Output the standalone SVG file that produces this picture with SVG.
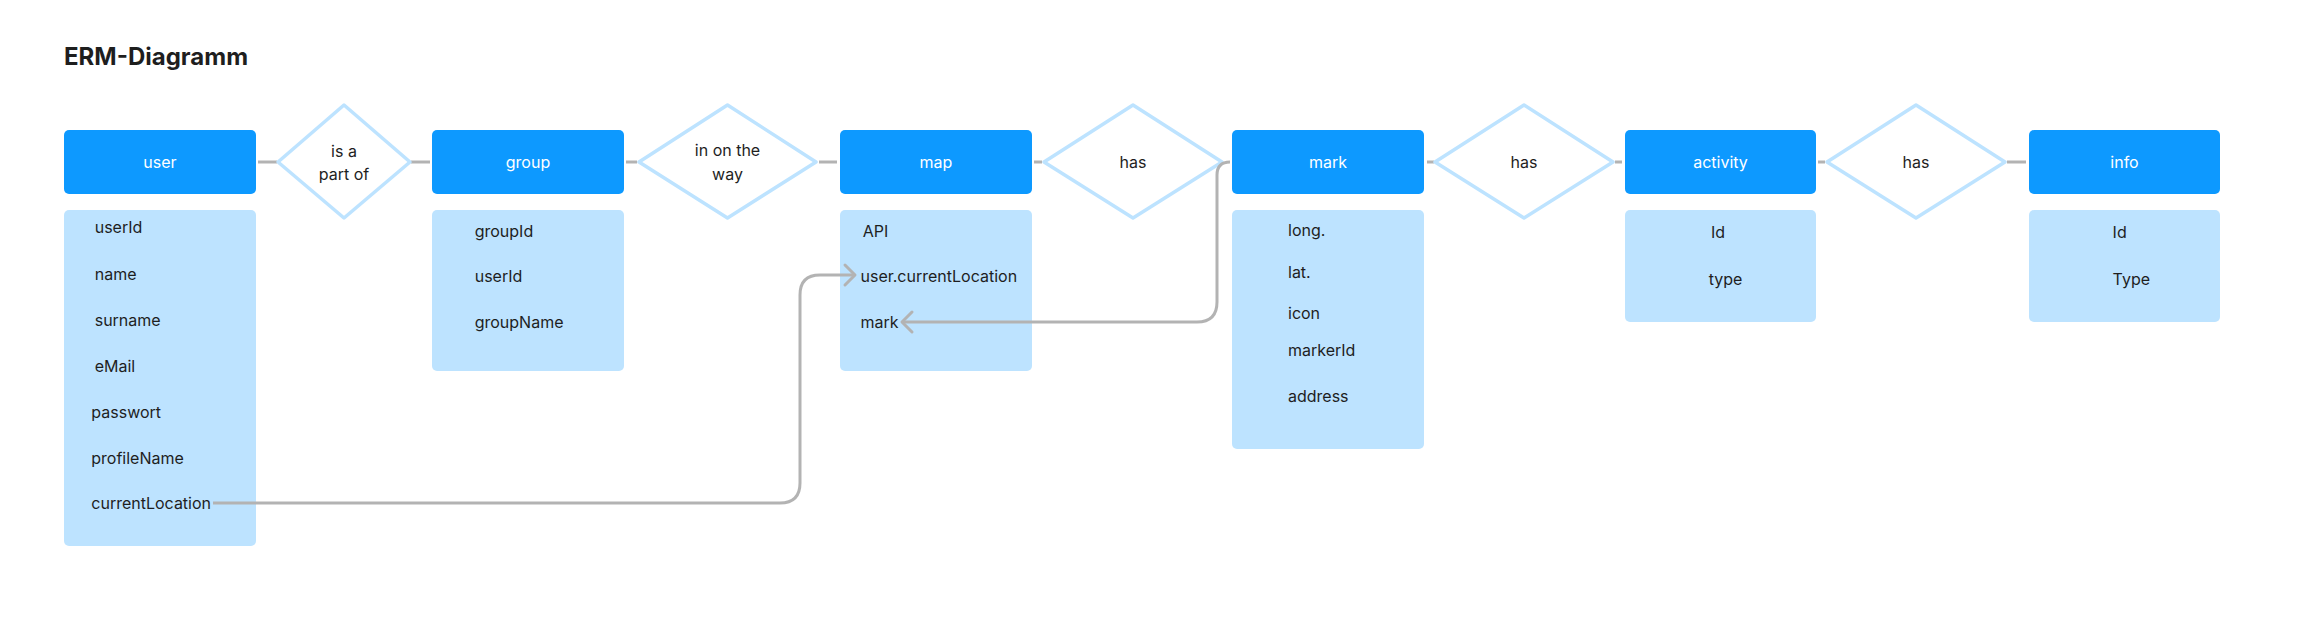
<svg xmlns="http://www.w3.org/2000/svg" width="2304" height="638" viewBox="0 0 2304 638">
<style>
text{font-family:Inter,"Noto Sans","Liberation Sans",sans-serif;font-size:16px;fill:#1e1e1e}
.title{font-size:24px;font-weight:700}
.hd{fill:#0d99ff}
.hdt{fill:#ffffff;text-anchor:middle}
.at{fill:#bde3ff}
.dm{fill:#ffffff;stroke:#bde3ff;stroke-width:3.5;stroke-linejoin:round}
.c{text-anchor:middle}
.ln{fill:none;stroke:#b3b3b3;stroke-width:3}
</style>
<defs>
<marker id="arr" markerUnits="userSpaceOnUse" markerWidth="30" markerHeight="30" viewBox="-15 -15 30 30" refX="0" refY="0" orient="auto">
<path d="M-10,-10 L0,0 L-10,10" fill="none" stroke="#b3b3b3" stroke-width="3" stroke-linecap="round" stroke-linejoin="round"/>
</marker>
</defs>
<rect width="2304" height="638" fill="#ffffff"/>
<text class="title" x="64" y="65">ERM-Diagramm</text>

<g id="connectors">
<line class="ln" x1="258" y1="162" x2="277" y2="162"/>
<line class="ln" x1="411" y1="162" x2="430" y2="162"/>
<line class="ln" x1="626" y1="162" x2="637" y2="162"/>
<line class="ln" x1="819" y1="162" x2="837" y2="162"/>
<line class="ln" x1="1034" y1="162" x2="1042" y2="162"/>
<line class="ln" x1="1427" y1="162" x2="1434" y2="162"/>
<line class="ln" x1="1615" y1="162" x2="1622" y2="162"/>
<line class="ln" x1="1818" y1="162" x2="1825" y2="162"/>
<line class="ln" x1="2007" y1="162" x2="2026" y2="162"/>
</g>

<g id="user">
<rect class="hd" x="64" y="130" width="192" height="64" rx="5"/>
<text class="hdt" x="160" y="168">user</text>
<rect class="at" x="64" y="210" width="192" height="336" rx="5"/>
<text x="94.7" y="233">userId</text>
<text x="94.7" y="279.5">name</text>
<text x="94.7" y="325.5">surname</text>
<text x="94.7" y="371.5">eMail</text>
<text x="91.3" y="417.5">passwort</text>
<text x="91.3" y="463.5">profileName</text>
<text x="91.3" y="509">currentLocation</text>
</g>

<g id="rel-is-a-part-of">
<polygon class="dm" points="344,105 410,162 344,218 278,162"/>
<text class="c" x="344" y="157">is a</text>
<text class="c" x="344" y="180">part of</text>
</g>

<g id="group">
<rect class="hd" x="432" y="130" width="192" height="64" rx="5"/>
<text class="hdt" x="528" y="168">group</text>
<rect class="at" x="432" y="210" width="192" height="161" rx="5"/>
<text x="474.7" y="236.5">groupId</text>
<text x="474.7" y="282">userId</text>
<text x="474.7" y="328">groupName</text>
</g>

<g id="rel-in-on-the-way">
<polygon class="dm" points="727.5,105 816,162 727.5,218 639,162"/>
<text class="c" x="727.5" y="156">in on the</text>
<text class="c" x="727.5" y="180">way</text>
</g>

<g id="map">
<rect class="hd" x="840" y="130" width="192" height="64" rx="5"/>
<text class="hdt" x="936" y="168">map</text>
<rect class="at" x="840" y="210" width="192" height="161" rx="5"/>
<text x="862.7" y="236.5">API</text>
<text x="860.5" y="282">user.currentLocation</text>
<text x="860.5" y="328">mark</text>
</g>

<g id="rel-map-has-mark">
<polygon class="dm" points="1133,105 1222,162 1133,218 1044,162"/>
<text class="c" x="1133" y="168">has</text>
</g>

<g id="mark">
<rect class="hd" x="1232" y="130" width="192" height="64" rx="5"/>
<text class="hdt" x="1328" y="168">mark</text>
<rect class="at" x="1232" y="210" width="192" height="239" rx="5"/>
<text x="1288" y="236">long.</text>
<text x="1288" y="278">lat.</text>
<text x="1288" y="318.5">icon</text>
<text x="1288" y="356">markerId</text>
<text x="1288" y="402">address</text>
</g>

<g id="rel-mark-has-activity">
<polygon class="dm" points="1524,105 1613,162 1524,218 1435,162"/>
<text class="c" x="1524" y="168">has</text>
</g>

<g id="activity">
<rect class="hd" x="1625" y="130" width="191" height="64" rx="5"/>
<text class="hdt" x="1720.5" y="168">activity</text>
<rect class="at" x="1625" y="210" width="191" height="112" rx="5"/>
<text x="1711" y="238">Id</text>
<text x="1708.7" y="284.5">type</text>
</g>

<g id="rel-activity-has-info">
<polygon class="dm" points="1916,105 2005,162 1916,218 1827,162"/>
<text class="c" x="1916" y="168">has</text>
</g>

<g id="info">
<rect class="hd" x="2029" y="130" width="191" height="64" rx="5"/>
<text class="hdt" x="2124.5" y="168">info</text>
<rect class="at" x="2029" y="210" width="191" height="112" rx="5"/>
<text x="2112.6" y="238">Id</text>
<text x="2112.6" y="284.5">Type</text>
</g>

<g id="links">
<path class="ln" d="M213,503 L780,503 Q800,503 800,483 L800,295 Q800,275 820,275 L855,275" marker-end="url(#arr)"/>
<path class="ln" d="M1230,162 Q1217,162 1217,175 L1217,302 Q1217,322 1197,322 L902,322" marker-end="url(#arr)"/>
</g>
</svg>
